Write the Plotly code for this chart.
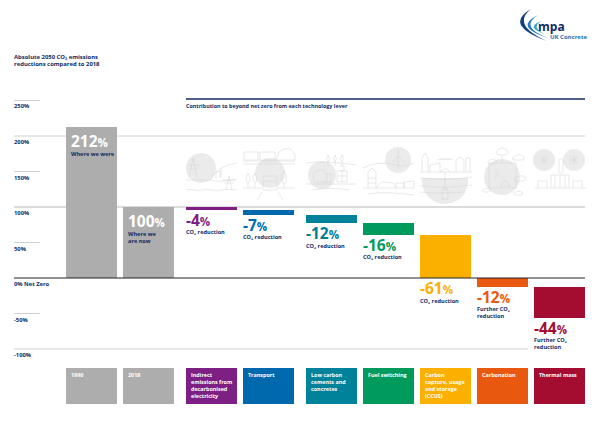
"""UK Concrete roadmap: absolute 2050 CO2 reductions by technology lever."""
import plotly.graph_objects as go

FONT = "Open Sans"
NAVY = "#0f2c63"
GREY = "#adadad"
ICON = "#d2d2d2"
DISC = "#ebebeb"

# data
start_labels = ["1990", "2018"]
start_values = [212, 100]
start_notes = ["Where we were", "Where we<br>are now"]
lever_labels = [
    "Indirect<br>emissions from<br>decarbonised<br>electricity",
    "Transport",
    "Low carbon<br>cements and<br>concretes",
    "Fuel switching",
    "Carbon<br>capture, usage<br>and storage<br>(CCUS)",
    "Carbonation",
    "Thermal mass",
]
lever_values = [-4, -7, -12, -16, -61, -12, -44]
lever_notes = ["CO₂ reduction"] * 5 + ["Further CO₂<br>reduction"] * 2
lever_colors = ["#7d1f83", "#0069ae", "#00829b", "#009a5c", "#fbb000", "#e8590f", "#a50d30"]
lever_text_colors = ["#7d1f83", "#0069ae", "#007e94", "#009a5c", "#fbb000", "#e8590f", "#a50d30"]
long_grid = [200, 100, -100]
short_grid = [250, 150, 50, -50]
tick_labels = {250: "250%", 200: "200%", 150: "150%", 100: "100%", 50: "50%",
               0: "0% Net Zero", -50: "-50%", -100: "-100%"}

# layout in page pixels
W, H = 600, 424
PX_PER_UNIT = 0.71
ZERO_PY = 278
BAR_W = 51
STEP = 57
LEVER_GAP = 6


def val(py):
    return (ZERO_PY - py) / PX_PER_UNIT


def pp(x, y):
    return x / W, 1 - y / H


def path(d):
    """Path string in page pixels -> paper coordinates."""
    out, nums = [], []
    for tok in d.split():
        if tok.isalpha():
            out.append(tok)
        else:
            nums.append(float(tok))
            if len(nums) == 2:
                fx, fy = pp(*nums)
                out.append(f"{fx:.4f},{fy:.4f}")
                nums = []
    return " ".join(out)


def circle(cx, cy, r, fill=DISC):
    x0, y0 = pp(cx - r, cy - r)
    x1, y1 = pp(cx + r, cy + r)
    return dict(type="circle", xref="paper", yref="paper", x0=x0, y0=y0, x1=x1, y1=y1,
                fillcolor=fill, line_width=0, layer="below")


def line_path(d, color=ICON, width=0.5):
    return dict(type="path", xref="paper", yref="paper", path=path(d),
                line=dict(color=color, width=width), layer="below")


def filled(d, color):
    return dict(type="path", xref="paper", yref="paper", path=path(d) + " Z",
                fillcolor=color, line_width=0)


def note(x, y, text, size=5.6, color=NAVY, bold=True, yanchor="middle", xanchor="left"):
    fx, fy = pp(x, y)
    return dict(xref="paper", yref="paper", x=fx, y=fy, text=f"<b>{text}</b>" if bold else text,
                showarrow=False, xanchor=xanchor, yanchor=yanchor, align="left",
                font=dict(family=FONT, size=size, color=color), borderpad=0, borderwidth=0)


def big(value):
    return f"<b>{value}<span style='font-size:11.5px'>%</span></b>"


fig = go.Figure()

# waterfall bars
start_x = [91.5 + STEP * i for i in range(len(start_values))]
fig.add_bar(x=start_x, y=start_values, width=BAR_W, marker_color=GREY, marker_line_width=0)

# the levers have a wider gutter after the 2018 bar and after transport
lever_x = [start_x[-1] + LEVER_GAP + STEP * (i + 1) + (LEVER_GAP if i >= 2 else 0)
           for i in range(len(lever_values))]
bases = []
level = start_values[-1]
for v in lever_values:
    bases.append(level)
    level += v
fig.add_bar(x=lever_x, y=lever_values, base=bases, width=BAR_W,
            marker_color=lever_colors, marker_line_width=0)

shapes, annotations = [], []

# grid
for v in long_grid:
    x1 = 528 if v == -100 else 585
    is_hundred = v == 100
    shapes.append(dict(type="line", xref="x", yref="y", x0=14, x1=x1, y0=v, y1=v, layer="below",
                       line=dict(color="#dcdcdc" if is_hundred else "#c4c4c4", width=2 if is_hundred else 0.8)))
for v in short_grid:
    shapes.append(dict(type="line", xref="x", yref="y", x0=14, x1=40, y0=v, y1=v, layer="below",
                       line=dict(color="#c4c4c4", width=0.8)))
shapes.append(dict(type="line", xref="x", yref="y", x0=14, x1=585, y0=0, y1=0, line=dict(color="#222222", width=1)))
shapes.append(dict(type="line", xref="x", yref="paper", x0=186, x1=585, y0=pp(0, 99)[1], y1=pp(0, 99)[1],
                   line=dict(color=NAVY, width=1.6)))

for v, label in tick_labels.items():
    annotations.append(note(14, ZERO_PY - v * PX_PER_UNIT + 6, label, size=5.8))

annotations.append(note(14, 57, "Absolute 2050 CO₂ emissions", size=5.9))
annotations.append(note(14, 64, "reductions compared to 2018", size=5.9))
annotations.append(note(186, 106.5, "Contribution to beyond net zero from each technology lever", size=5.4))

# value labels on the two grey bars
for x, v, txt in zip(start_x, start_values, start_notes):
    left = x - BAR_W / 2 + 4.5
    top = ZERO_PY - v * PX_PER_UNIT
    annotations.append(note(left, top + 14, big(v), size=15.5, color="white", bold=False))
    annotations.append(note(left, top + 23, txt, yanchor="top"))

# value labels below the lever bars
for x, b, v, txt, col in zip(lever_x, bases, lever_values, lever_notes, lever_text_colors):
    left = x - BAR_W / 2
    bottom = ZERO_PY - (b + v) * PX_PER_UNIT
    annotations.append(note(left, bottom + 10, big(v), size=15.5, color=col, bold=False))
    annotations.append(note(left, bottom + 18.5, txt, yanchor="top"))

# category boxes
box_colors = [GREY, GREY] + lever_colors
box_labels = start_labels + lever_labels
for x, label, col in zip(start_x + lever_x, box_labels, box_colors):
    x0, y0 = pp(x - BAR_W / 2, 404)
    x1, y1 = pp(x + BAR_W / 2, 368)
    shapes.append(dict(type="rect", xref="paper", yref="paper", x0=x0, x1=x1, y0=y0, y1=y1,
                       fillcolor=col, line_width=0))
    annotations.append(note(x - BAR_W / 2 + 4.5, 371, label, size=5.4, color="white", yanchor="top"))

# icon discs
for c in [(201, 168, 15), (270, 173, 15), (322, 175, 14), (398, 160, 13),
          (445, 181, 23), (502, 177, 18), (544, 160, 11), (574, 160, 11)]:
    shapes.append(circle(*c))
# hide the parts of the discs cut off by the landscape
for box in [(186, 183, 237, 200), (243, 189, 295, 205), (420, 160, 472, 178)]:
    x0, y0 = pp(box[0], box[3])
    x1, y1 = pp(box[2], box[1])
    shapes.append(dict(type="rect", xref="paper", yref="paper", x0=x0, x1=x1, y0=y0, y1=y1,
                       fillcolor="white", line_width=0, layer="below"))

# icon outlines
icon_paths = [
    # grid electricity
    "M 186 180 L 210 180 Q 218 165 237 163",
    "M 189 178 L 193 158 L 197 178 M 187 165 L 199 165 M 188 169 L 198 169 M 191 160 L 195 160",
    "M 210 180 Q 222 183 237 179",
    "M 226 190 L 229 176 L 232 190 M 222 180 L 236 180 M 224 183 L 234 183",
    "M 216 179 L 216 172 L 220 171 L 220 178 M 221 178 L 221 169",
    "M 186 190 Q 190 189 194 190 Q 198 191 202 190 Q 206 189 210 190 Q 216 191 222 190 Q 230 189 237 190",
    # transport
    "M 243 164 L 295 164 M 243 161 L 295 161",
    "M 244 160 L 244 152 L 258 152 L 258 160 Z M 260 160 L 260 152 L 275 152 L 275 160 Z",
    "M 276 160 L 279 152 L 283 149 L 291 149 L 295 155 L 295 160 Z",
    "M 243 188 L 262 188 M 278 188 L 295 188",
    "M 263 176 L 277 176 L 277 190 L 263 190 Z M 265 181 L 275 181",
    "M 262 192 L 257 200 M 278 192 L 283 200",
    "M 248 173 Q 244 180 248 183 Q 252 180 248 173 M 248 183 L 248 188",
    "M 255 173 Q 251 180 255 183 Q 259 180 255 173 M 255 183 L 255 188",
    "M 284 171 Q 279 180 284 184 Q 289 180 284 171 M 284 184 L 284 188",
    # low carbon cements
    "M 306 163 Q 322 160 357 165",
    "M 328 155 Q 325 159 328 162 Q 331 159 328 155 M 328 162 L 328 166",
    "M 335 155 Q 332 159 335 162 Q 338 159 335 155 M 335 162 L 335 166",
    "M 342 155 Q 339 159 342 162 Q 345 159 342 155 M 342 162 L 342 166",
    "M 313 176 Q 315 169 323 170 Q 329 174 326 182 L 314 182 Z M 326 182 L 331 182 L 331 174 L 326 174",
    "M 337 171 L 347 171 L 347 182 L 337 182 Z M 337 176 L 347 176 M 342 171 L 342 182 M 340 166 L 344 166 L 344 171 L 340 171",
    "M 306 184 L 357 184 M 312 190 Q 330 187 350 190",
    # fuel switching
    "M 363 168 Q 378 160 396 165 Q 404 168 414 163",
    "M 398 156 L 398 168 M 398 156 L 392 163 M 398 156 L 405 163 M 398 156 L 398 149",
    "M 368 188 L 368 172 L 372 168 L 376 172 L 376 188 M 368 178 L 376 178 M 368 183 L 376 183",
    "M 376 188 L 382 182 L 393 183 L 396 188 M 396 188 L 396 183 L 404 183 L 404 188 M 404 188 L 404 182 L 414 181 L 414 188",
    "M 363 188 L 414 188 M 368 194 Q 385 191 414 195",
    # ccus
    "M 420 172 L 472 172 M 420 178 Q 445 181 472 177 M 420 186 Q 445 189 472 185 M 420 192 Q 440 194 465 192",
    "M 422 172 L 422 158 L 425 153 L 428 158 L 428 172 M 430 172 L 430 165 L 440 163 L 440 172 M 440 172 L 446 168 L 450 172",
    "M 456 172 L 456 160 Q 460 154 464 160 L 464 172 M 466 172 L 466 158 L 470 158 L 470 172",
    "M 445 172 L 445 190 M 442 190 L 448 190 L 448 199 L 442 199 Z M 445 187 L 442 190 M 445 187 L 448 190",
    # carbonation
    "M 489 163 L 516 163 M 489 163 L 489 188 M 516 163 L 516 188 M 489 188 L 516 188",
    "M 502 148 Q 507 148 508 152 Q 508 155 504 155 L 499 155 Q 495 154 497 151 Q 499 148 502 148 M 502 155 L 502 163",
    "M 517 155 Q 522 154 524 157 Q 525 160 521 160 L 513 160 Q 511 157 517 155",
    "M 490 160 Q 494 158 497 161 Q 496 164 493 164 L 489 164 Q 487 161 490 160",
    "M 520 176 Q 525 175 526 179 Q 526 181 522 181 L 515 181 Q 513 177 520 176",
    "M 484 189 Q 488 187 491 190 Q 491 192 488 192 L 483 192 Q 481 190 484 189",
    "M 516 192 Q 520 190 523 193 Q 523 195 520 195 L 514 195 Q 512 192 516 192",
    "M 495 172 Q 498 170 498 174 L 494 180 M 505 180 L 510 186 L 500 186 Z",
    # thermal mass
    "M 535 188 L 586 188 M 551 188 L 551 175 L 569 175 L 569 188 M 555 175 L 555 188 M 560 175 L 560 188 M 565 175 L 565 188",
    "M 538 188 L 538 181 L 547 181 L 547 188 M 573 188 L 573 181 L 582 181 L 582 188",
    "M 559 172 L 559 160 Q 561 157 563 160 L 563 172 Q 561 175 559 172",
    "M 544 155 L 544 165 M 539 160 L 549 160 M 540 156 L 548 164 M 548 156 L 540 164",
    "M 574 155 L 574 165 M 569 160 L 579 160 M 570 156 L 578 164 M 578 156 L 570 164",
]
shapes += [line_path(d) for d in icon_paths]

# logo
shapes.append(filled("M 531 9 Q 503 25 547 41 Q 511 25 531 9", "#13407f"))
shapes.append(filled("M 538 15 Q 513 27 548 38 Q 519 27 538 15", "#2f7cc0"))
shapes.append(filled("M 542 21 Q 524 27 545 34 Q 530 27 542 21", "#37a7c4"))
annotations.append(note(538, 26, "mpa", size=12, color="#0f2c63"))
annotations.append(note(550, 37, "UK Concrete", size=6, color="#2a6db0"))

fig.update_layout(
    width=W,
    height=H,
    margin=dict(l=0, r=0, t=0, b=0),
    paper_bgcolor="white",
    plot_bgcolor="white",
    showlegend=False,
    bargap=0,
    barmode="overlay",
    shapes=shapes,
    annotations=annotations,
    xaxis=dict(range=[0, W], visible=False, fixedrange=True),
    yaxis=dict(range=[val(H), val(0)], visible=False, fixedrange=True),
)

fig.write_html("out.html", post_script="document.body.style.margin='0';", config={"displayModeBar": False})
